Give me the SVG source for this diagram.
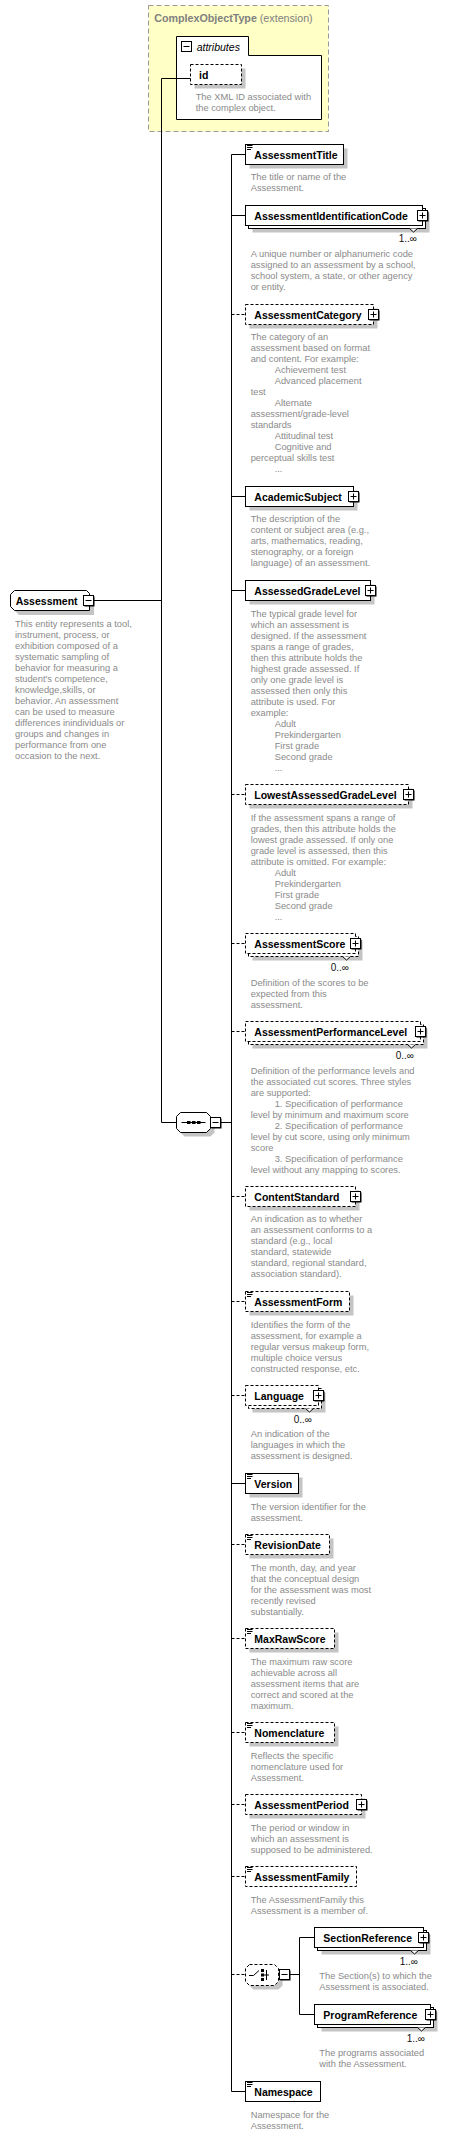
<svg xmlns="http://www.w3.org/2000/svg" xmlns:xlink="http://www.w3.org/1999/xlink" width="462" height="2135" viewBox="0 0 462 2135">
<style>
.n{font-family:"Liberation Sans",Arial,sans-serif;font-weight:bold;font-size:10.5px;fill:#000}
.d{font-family:"Liberation Sans",Arial,sans-serif;font-size:9.3px;fill:#8a8a8a}
.m{font-family:"Liberation Sans",Arial,sans-serif;font-size:10px;fill:#111}
.bx{fill:#fff;stroke:#000;stroke-width:1}
.op{stroke-dasharray:3,2}
.sh{fill:#c4c4c4}
.ln{fill:none;stroke:#000;stroke-width:1}
.dl{fill:none;stroke:#000;stroke-width:1;stroke-dasharray:3,2}
</style>
<defs>
<g id="pl"><rect x="1.5" y="1.5" width="10" height="10" fill="#000"/><rect x="0.5" y="0.5" width="10" height="10" fill="#fff" stroke="#000"/><path d="M2.5,5.5H8.5M5.5,2.5V8.5" stroke="#000"/></g>
<g id="mi"><rect x="1.5" y="1.5" width="10" height="10" fill="#000"/><rect x="0.5" y="0.5" width="10" height="10" fill="#fff" stroke="#000"/><path d="M2.5,5.5H8.5" stroke="#000"/></g>
<path id="eq" d="M2,1.5H7.5M2,3.5H7.5M2,5.5H6" stroke="#000" fill="none"/>
</defs>

<g id="ComplexObjectType">
<rect x="148.5" y="5.5" width="180" height="126" fill="#ffffc6" stroke="#999" stroke-dasharray="5,3"/>
<text x="154.3" y="22" font-family="Liberation Sans,Arial,sans-serif" font-size="10.7" fill="#808080"><tspan font-weight="bold">ComplexObjectType</tspan> (extension)</text>
<path d="M176.5,36.5H248.5V55.5H321.5V119.5H176.5Z" class="bx"/>
<rect x="181.5" y="41.5" width="10" height="10" fill="#fff" stroke="#000"/>
<path d="M183.5,46.5H189.5" stroke="#000"/>
<text x="196.7" y="50.5" font-family="Liberation Sans,Arial,sans-serif" font-size="10.5" font-style="italic" fill="#000">attributes</text>
</g>

<g id="id">
<rect class="sh" x="194.5" y="68.5" width="51" height="20"/>
<rect class="bx op" x="190.5" y="64.5" width="51" height="20"/>
<text class="n" x="199" y="79">id</text>
<text class="d" x="195.7" y="100">The XML ID associated with<tspan x="195.7" dy="11">the complex object.</tspan></text>
</g>

<g id="connectors">
<path class="ln" d="M161.5,78.5H190.5M161.5,78.5V1122.5H176.5M93.5,600.5H161.5M220.5,1122.5H231.5M231.5,154.5V2091.5"/>
<path class="ln" d="M231.5,154.5H245.5M231.5,215.5H245.5M231.5,496.5H245.5M231.5,590.5H245.5M231.5,1483.5H245.5M231.5,2091.5H245.5"/>
<path class="dl" d="M231.5,314.5H245.5M231.5,794.5H245.5M231.5,943.5H245.5M231.5,1031.5H245.5M231.5,1196.5H245.5M231.5,1301.5H245.5M231.5,1395.5H245.5M231.5,1544.5H245.5M231.5,1638.5H245.5M231.5,1732.5H245.5M231.5,1804.5H245.5M231.5,1876.5H245.5M231.5,1974.5H245.5"/>
<path class="ln" d="M289.5,1974.5H299.5M299.5,1937.5V2014.5M299.5,1937.5H314.5M299.5,2014.5H314.5"/>
</g>

<g id="Assessment">
<polygon class="sh" points="19,595 91,595 94,598 94,615 19,615 15,611 15,599"/>
<polygon class="bx" points="14.5,590.5 86.5,590.5 89.5,593.5 89.5,610.5 14.5,610.5 10.5,606.5 10.5,594.5"/>
<use href="#mi" x="83" y="595"/>
<text class="n" x="15.7" y="605">Assessment</text>
<text class="d" x="15" y="626.5">This entity represents a tool,<tspan x="15" dy="11">instrument, process, or</tspan><tspan x="15" dy="11">exhibition composed of a</tspan><tspan x="15" dy="11">systematic sampling of</tspan><tspan x="15" dy="11">behavior for measuring a</tspan><tspan x="15" dy="11">student's competence,</tspan><tspan x="15" dy="11">knowledge,skills, or</tspan><tspan x="15" dy="11">behavior. An assessment</tspan><tspan x="15" dy="11">can be used to measure</tspan><tspan x="15" dy="11">differences inindividuals or</tspan><tspan x="15" dy="11">groups and changes in</tspan><tspan x="15" dy="11">performance from one</tspan><tspan x="15" dy="11">occasion to the next.</tspan></text>
</g>

<g id="sequence">
<polygon class="sh" points="184.5,1116.5 210.5,1116.5 214.5,1120.5 214.5,1132.5 210.5,1136.5 184.5,1136.5 180.5,1132.5 180.5,1120.5"/>
<polygon class="bx" points="180.5,1112.5 206.5,1112.5 210.5,1116.5 210.5,1128.5 206.5,1132.5 180.5,1132.5 176.5,1128.5 176.5,1116.5"/>
<path d="M181.5,1122.5H205.5" stroke="#000"/>
<rect x="187" y="1121" width="3.5" height="3" fill="#000"/><rect x="192" y="1121" width="3.5" height="3" fill="#000"/><rect x="197" y="1121" width="3.5" height="3" fill="#000"/>
<use href="#mi" x="210" y="1117"/>
</g>

<g id="AssessmentTitle">
<rect class="sh" x="249.5" y="148.5" width="98" height="20"/>
<rect class="bx" x="245.5" y="144.5" width="98" height="20"/>
<use href="#eq" x="245" y="144"/>
<text class="n" x="254.3" y="158.5">AssessmentTitle</text>
<text class="d" x="250.7" y="179.5">The title or name of the<tspan x="250.7" dy="11">Assessment.</tspan></text>
</g>

<g id="AssessmentIdentificationCode">
<rect class="sh" x="252.5" y="212.5" width="177" height="20"/>
<rect class="bx" x="248.5" y="208.5" width="177" height="20"/>
<rect class="bx" x="245.5" y="205.5" width="177" height="20"/>
<polyline class="bx" points="409.5,228.5 413.5,232 417.5,228.5"/>
<use href="#pl" x="417" y="210"/>
<text class="n" x="254.3" y="219.5">AssessmentIdentificationCode</text>
<text class="m" x="417" y="242" text-anchor="end">1..∞</text>
<text class="d" x="250.7" y="257">A unique number or alphanumeric code<tspan x="250.7" dy="11">assigned to an assessment by a school,</tspan><tspan x="250.7" dy="11">school system, a state, or other agency</tspan><tspan x="250.7" dy="11">or entity.</tspan></text>
</g>

<g id="AssessmentCategory">
<rect class="sh" x="249.5" y="308.5" width="128" height="20"/>
<rect class="bx op" x="245.5" y="304.5" width="128" height="20"/>
<use href="#pl" x="368" y="309"/>
<text class="n" x="254.3" y="318.5">AssessmentCategory</text>
<text class="d" x="250.7" y="340">The category of an<tspan x="250.7" dy="11">assessment based on format</tspan><tspan x="250.7" dy="11">and content. For example:</tspan><tspan x="274.7" dy="11">Achievement test</tspan><tspan x="274.7" dy="11">Advanced placement</tspan><tspan x="250.7" dy="11">test</tspan><tspan x="274.7" dy="11">Alternate</tspan><tspan x="250.7" dy="11">assessment/grade-level</tspan><tspan x="250.7" dy="11">standards</tspan><tspan x="274.7" dy="11">Attitudinal test</tspan><tspan x="274.7" dy="11">Cognitive and</tspan><tspan x="250.7" dy="11">perceptual skills test</tspan><tspan x="274.7" dy="11">...</tspan></text>
</g>

<g id="AcademicSubject">
<rect class="sh" x="249.5" y="490.5" width="108" height="20"/>
<rect class="bx" x="245.5" y="486.5" width="108" height="20"/>
<use href="#pl" x="348" y="491"/>
<text class="n" x="254.3" y="500.5">AcademicSubject</text>
<text class="d" x="250.7" y="522">The description of the<tspan x="250.7" dy="11">content or subject area (e.g.,</tspan><tspan x="250.7" dy="11">arts, mathematics, reading,</tspan><tspan x="250.7" dy="11">stenography, or a foreign</tspan><tspan x="250.7" dy="11">language) of an assessment.</tspan></text>
</g>

<g id="AssessedGradeLevel">
<rect class="sh" x="249.5" y="584.5" width="125" height="20"/>
<rect class="bx" x="245.5" y="580.5" width="125" height="20"/>
<use href="#pl" x="365" y="585"/>
<text class="n" x="254.3" y="594.5">AssessedGradeLevel</text>
<text class="d" x="250.7" y="616.5">The typical grade level for<tspan x="250.7" dy="11">which an assessment is</tspan><tspan x="250.7" dy="11">designed. If the assessment</tspan><tspan x="250.7" dy="11">spans a range of grades,</tspan><tspan x="250.7" dy="11">then this attribute holds the</tspan><tspan x="250.7" dy="11">highest grade assessed. If</tspan><tspan x="250.7" dy="11">only one grade level is</tspan><tspan x="250.7" dy="11">assessed then only this</tspan><tspan x="250.7" dy="11">attribute is used. For</tspan><tspan x="250.7" dy="11">example:</tspan><tspan x="274.7" dy="11">Adult</tspan><tspan x="274.7" dy="11">Prekindergarten</tspan><tspan x="274.7" dy="11">First grade</tspan><tspan x="274.7" dy="11">Second grade</tspan><tspan x="274.7" dy="11">...</tspan></text>
</g>

<g id="LowestAssessedGradeLevel">
<rect class="sh" x="249.5" y="788.5" width="163" height="20"/>
<rect class="bx op" x="245.5" y="784.5" width="163" height="20"/>
<use href="#pl" x="403" y="789"/>
<text class="n" x="254.3" y="798.5">LowestAssessedGradeLevel</text>
<text class="d" x="250.7" y="820.5">If the assessment spans a range of<tspan x="250.7" dy="11">grades, then this attribute holds the</tspan><tspan x="250.7" dy="11">lowest grade assessed. If only one</tspan><tspan x="250.7" dy="11">grade level is assessed, then this</tspan><tspan x="250.7" dy="11">attribute is omitted. For example:</tspan><tspan x="274.7" dy="11">Adult</tspan><tspan x="274.7" dy="11">Prekindergarten</tspan><tspan x="274.7" dy="11">First grade</tspan><tspan x="274.7" dy="11">Second grade</tspan><tspan x="274.7" dy="11">...</tspan></text>
</g>

<g id="AssessmentScore">
<rect class="sh" x="252.5" y="940.5" width="110" height="20"/>
<rect class="bx op" x="248.5" y="936.5" width="110" height="20"/>
<rect class="bx op" x="245.5" y="933.5" width="110" height="20"/>
<polyline class="bx" points="342.5,956.5 346.5,960 350.5,956.5"/>
<use href="#pl" x="350" y="938"/>
<text class="n" x="254.3" y="947.5">AssessmentScore</text>
<text class="m" x="349" y="971" text-anchor="end">0..∞</text>
<text class="d" x="250.7" y="985.5">Definition of the scores to be<tspan x="250.7" dy="11">expected from this</tspan><tspan x="250.7" dy="11">assessment.</tspan></text>
</g>

<g id="AssessmentPerformanceLevel">
<rect class="sh" x="252.5" y="1028.5" width="175" height="20"/>
<rect class="bx op" x="248.5" y="1024.5" width="175" height="20"/>
<rect class="bx op" x="245.5" y="1021.5" width="175" height="20"/>
<polyline class="bx" points="407.5,1044.5 411.5,1048 415.5,1044.5"/>
<use href="#pl" x="415" y="1026"/>
<text class="n" x="254.3" y="1035.5">AssessmentPerformanceLevel</text>
<text class="m" x="414" y="1059" text-anchor="end">0..∞</text>
<text class="d" x="250.7" y="1073.5">Definition of the performance levels and<tspan x="250.7" dy="11">the associated cut scores. Three styles</tspan><tspan x="250.7" dy="11">are supported:</tspan><tspan x="274.7" dy="11">1. Specification of performance</tspan><tspan x="250.7" dy="11">level by minimum and maximum score</tspan><tspan x="274.7" dy="11">2. Specification of performance</tspan><tspan x="250.7" dy="11">level by cut score, using only minimum</tspan><tspan x="250.7" dy="11">score</tspan><tspan x="274.7" dy="11">3. Specification of performance</tspan><tspan x="250.7" dy="11">level without any mapping to scores.</tspan></text>
</g>

<g id="ContentStandard">
<rect class="sh" x="249.5" y="1190.5" width="110" height="20"/>
<rect class="bx op" x="245.5" y="1186.5" width="110" height="20"/>
<use href="#pl" x="350" y="1191"/>
<text class="n" x="254.3" y="1200.5">ContentStandard</text>
<text class="d" x="250.7" y="1222">An indication as to whether<tspan x="250.7" dy="11">an assessment conforms to a</tspan><tspan x="250.7" dy="11">standard (e.g., local</tspan><tspan x="250.7" dy="11">standard, statewide</tspan><tspan x="250.7" dy="11">standard, regional standard,</tspan><tspan x="250.7" dy="11">association standard).</tspan></text>
</g>

<g id="AssessmentForm">
<rect class="sh" x="249.5" y="1295.5" width="104" height="20"/>
<rect class="bx op" x="245.5" y="1291.5" width="104" height="20"/>
<use href="#eq" x="245" y="1291"/>
<text class="n" x="254.3" y="1305.5">AssessmentForm</text>
<text class="d" x="250.7" y="1327.5">Identifies the form of the<tspan x="250.7" dy="11">assessment, for example a</tspan><tspan x="250.7" dy="11">regular versus makeup form,</tspan><tspan x="250.7" dy="11">multiple choice versus</tspan><tspan x="250.7" dy="11">constructed response, etc.</tspan></text>
</g>

<g id="Language">
<rect class="sh" x="252.5" y="1392.5" width="73" height="20"/>
<rect class="bx op" x="248.5" y="1388.5" width="73" height="20"/>
<rect class="bx op" x="245.5" y="1385.5" width="73" height="20"/>
<polyline class="bx" points="305.5,1408.5 309.5,1412 313.5,1408.5"/>
<use href="#pl" x="313" y="1390"/>
<text class="n" x="254.3" y="1399.5">Language</text>
<text class="m" x="312" y="1423" text-anchor="end">0..∞</text>
<text class="d" x="250.7" y="1437">An indication of the<tspan x="250.7" dy="11">languages in which the</tspan><tspan x="250.7" dy="11">assessment is designed.</tspan></text>
</g>

<g id="Version">
<rect class="sh" x="249.5" y="1477.5" width="53" height="20"/>
<rect class="bx" x="245.5" y="1473.5" width="53" height="20"/>
<use href="#eq" x="245" y="1473"/>
<text class="n" x="254.3" y="1487.5">Version</text>
<text class="d" x="250.7" y="1509.5">The version identifier for the<tspan x="250.7" dy="11">assessment.</tspan></text>
</g>

<g id="RevisionDate">
<rect class="sh" x="249.5" y="1538.5" width="84" height="20"/>
<rect class="bx op" x="245.5" y="1534.5" width="84" height="20"/>
<use href="#eq" x="245" y="1534"/>
<text class="n" x="254.3" y="1548.5">RevisionDate</text>
<text class="d" x="250.7" y="1570.5">The month, day, and year<tspan x="250.7" dy="11">that the conceptual design</tspan><tspan x="250.7" dy="11">for the assessment was most</tspan><tspan x="250.7" dy="11">recently revised</tspan><tspan x="250.7" dy="11">substantially.</tspan></text>
</g>

<g id="MaxRawScore">
<rect class="sh" x="249.5" y="1632.5" width="89" height="20"/>
<rect class="bx op" x="245.5" y="1628.5" width="89" height="20"/>
<use href="#eq" x="245" y="1628"/>
<text class="n" x="254.3" y="1642.5">MaxRawScore</text>
<text class="d" x="250.7" y="1664.5">The maximum raw score<tspan x="250.7" dy="11">achievable across all</tspan><tspan x="250.7" dy="11">assessment items that are</tspan><tspan x="250.7" dy="11">correct and scored at the</tspan><tspan x="250.7" dy="11">maximum.</tspan></text>
</g>

<g id="Nomenclature">
<rect class="sh" x="249.5" y="1726.5" width="89" height="20"/>
<rect class="bx op" x="245.5" y="1722.5" width="89" height="20"/>
<use href="#eq" x="245" y="1722"/>
<text class="n" x="254.3" y="1736.5">Nomenclature</text>
<text class="d" x="250.7" y="1758.5">Reflects the specific<tspan x="250.7" dy="11">nomenclature used for</tspan><tspan x="250.7" dy="11">Assessment.</tspan></text>
</g>

<g id="AssessmentPeriod">
<rect class="sh" x="249.5" y="1798.5" width="116" height="20"/>
<rect class="bx op" x="245.5" y="1794.5" width="116" height="20"/>
<use href="#pl" x="356" y="1799"/>
<text class="n" x="254.3" y="1808.5">AssessmentPeriod</text>
<text class="d" x="250.7" y="1830.5">The period or window in<tspan x="250.7" dy="11">which an assessment is</tspan><tspan x="250.7" dy="11">supposed to be administered.</tspan></text>
</g>

<g id="AssessmentFamily">
<rect class="bx op" x="245.5" y="1866.5" width="111" height="20"/>
<use href="#eq" x="245" y="1866"/>
<text class="n" x="254.3" y="1880.5">AssessmentFamily</text>
<text class="d" x="250.7" y="1902.5">The AssessmentFamily this<tspan x="250.7" dy="11">Assessment is a member of.</tspan></text>
</g>

<g id="choice">
<polygon class="sh" points="253.5,1968.5 278.5,1968.5 282.5,1972.5 282.5,1985.5 278.5,1989.5 253.5,1989.5 249.5,1985.5 249.5,1972.5"/>
<polygon class="bx op" points="249.5,1964.5 274.5,1964.5 278.5,1968.5 278.5,1981.5 274.5,1985.5 249.5,1985.5 245.5,1981.5 245.5,1968.5"/>
<path d="M249,1975.5H253.5L259,1970.5" stroke="#000" fill="none"/>
<rect x="261" y="1969" width="3" height="3" fill="#000"/><rect x="261" y="1973.5" width="3" height="3" fill="#000"/><rect x="261" y="1978" width="3" height="3" fill="#000"/>
<path d="M264,1975H269M266.5,1970V1980" stroke="#000" fill="none"/>
<use href="#mi" x="279" y="1969"/>
</g>

<g id="SectionReference">
<rect class="sh" x="321.5" y="1934.5" width="109" height="20"/>
<rect class="bx" x="317.5" y="1930.5" width="109" height="20"/>
<rect class="bx" x="314.5" y="1927.5" width="109" height="20"/>
<polyline class="bx" points="410.5,1950.5 414.5,1954 418.5,1950.5"/>
<use href="#pl" x="418" y="1932"/>
<text class="n" x="323.3" y="1941.5">SectionReference</text>
<text class="m" x="418" y="1965" text-anchor="end">1..∞</text>
<text class="d" x="319.3" y="1979">The Section(s) to which the<tspan x="319.3" dy="11">Assessment is associated.</tspan></text>
</g>

<g id="ProgramReference">
<rect class="sh" x="321.5" y="2011.5" width="116" height="20"/>
<rect class="bx" x="317.5" y="2007.5" width="116" height="20"/>
<rect class="bx" x="314.5" y="2004.5" width="116" height="20"/>
<polyline class="bx" points="417.5,2027.5 421.5,2031 425.5,2027.5"/>
<use href="#pl" x="425" y="2009"/>
<text class="n" x="323.3" y="2018.5">ProgramReference</text>
<text class="m" x="425" y="2042" text-anchor="end">1..∞</text>
<text class="d" x="319.3" y="2056">The programs associated<tspan x="319.3" dy="11">with the Assessment.</tspan></text>
</g>

<g id="Namespace">
<rect class="bx" x="245.5" y="2081.5" width="75" height="20"/>
<use href="#eq" x="245" y="2081"/>
<text class="n" x="254.3" y="2095.5">Namespace</text>
<text class="d" x="250.7" y="2117.5">Namespace for the<tspan x="250.7" dy="11">Assessment.</tspan></text>
</g>
</svg>
